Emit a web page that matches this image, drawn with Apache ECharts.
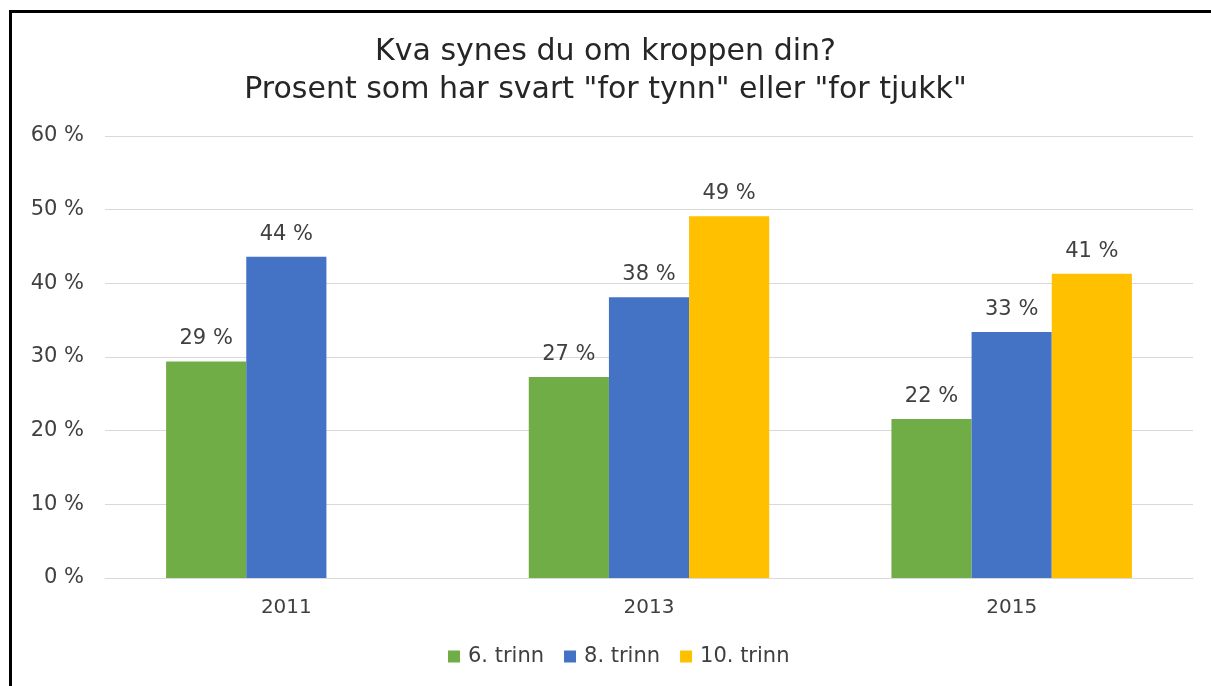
<!DOCTYPE html>
<html lang="no">
<head>
    <meta charset="UTF-8">
    <title>Kva synes du om kroppen din?</title>
    <script src="https://cdn.jsdelivr.net/npm/echarts@6/dist/echarts.min.js"></script>
    <style type="text/css">
        html, body { margin: 0; padding: 0; background: #fff; }
        #frame {
            position: absolute; left: 9px; top: 10px; width: 1202px; height: 676px;
            border-top: 3px solid #000; border-left: 3px solid #000; box-sizing: border-box;
        }
        #main { position: absolute; left: 0; top: 0; width: 1211px; height: 686px; }
    </style>
</head>
<body>
<div id="main"></div>
<div id="frame"></div>
<script>
    // data
    var years = ['2011', '2013', '2015'];
    var trinn6 = [29.4, 27.3, 21.6];
    var trinn8 = [43.6, 38.1, 33.4];
    var trinn10 = [null, 49.1, 41.3];
    var seriesNames = ['6. trinn', '8. trinn', '10. trinn'];
    var seriesColors = ['#70AD47', '#4472C4', '#FFC000'];

    var fontName = 'DejaVu Sans';
    var textColor = '#404040';

    var myChart = echarts.init(document.getElementById('main'));

    function makeSeries(i, data) {
        return {
            name: seriesNames[i],
            type: 'bar',
            data: data,
            barGap: 0,
            barCategoryGap: '33.7%',
            itemStyle: {color: seriesColors[i]},
            label: {
                show: true,
                position: 'top',
                distance: 12,
                fontFamily: fontName,
                fontSize: 21,
                color: textColor,
                formatter: function (p) {
                    return Math.round(p.value) + ' %';
                }
            }
        };
    }

    var option = {
        animation: false,
        title: {
            text: 'Kva synes du om kroppen din?\nProsent som har svart "for tynn" eller "for tjukk"',
            left: 'center',
            top: 28,
            textStyle: {
                fontFamily: fontName,
                fontSize: 30,
                fontWeight: 'normal',
                color: '#262626',
                lineHeight: 38
            }
        },
        legend: {
            bottom: 14,
            left: 443,
            itemWidth: 12,
            itemHeight: 12,
            itemGap: 20,
            icon: 'rect',
            textStyle: {fontFamily: fontName, fontSize: 21, color: textColor, padding: [0, 0, 0, 3]},
            data: seriesNames
        },
        grid: {left: 105, right: 18, top: 136, bottom: 108, containLabel: false},
        xAxis: {
            type: 'category',
            data: years,
            axisLine: {lineStyle: {color: '#d9d9d9', width: 1}},
            axisTick: {show: false},
            axisLabel: {fontFamily: fontName, fontSize: 20, color: textColor, margin: 20}
        },
        yAxis: {
            type: 'value',
            min: 0,
            max: 60,
            interval: 10,
            axisLine: {show: false},
            axisTick: {show: false},
            splitLine: {lineStyle: {color: '#d9d9d9', width: 1}},
            axisLabel: {
                fontFamily: fontName, fontSize: 21, color: textColor, margin: 21,
                formatter: '{value} %'
            }
        },
        series: [
            makeSeries(0, trinn6),
            makeSeries(1, trinn8),
            makeSeries(2, trinn10)
        ]
    };

    myChart.setOption(option);
</script>
</body>
</html>
